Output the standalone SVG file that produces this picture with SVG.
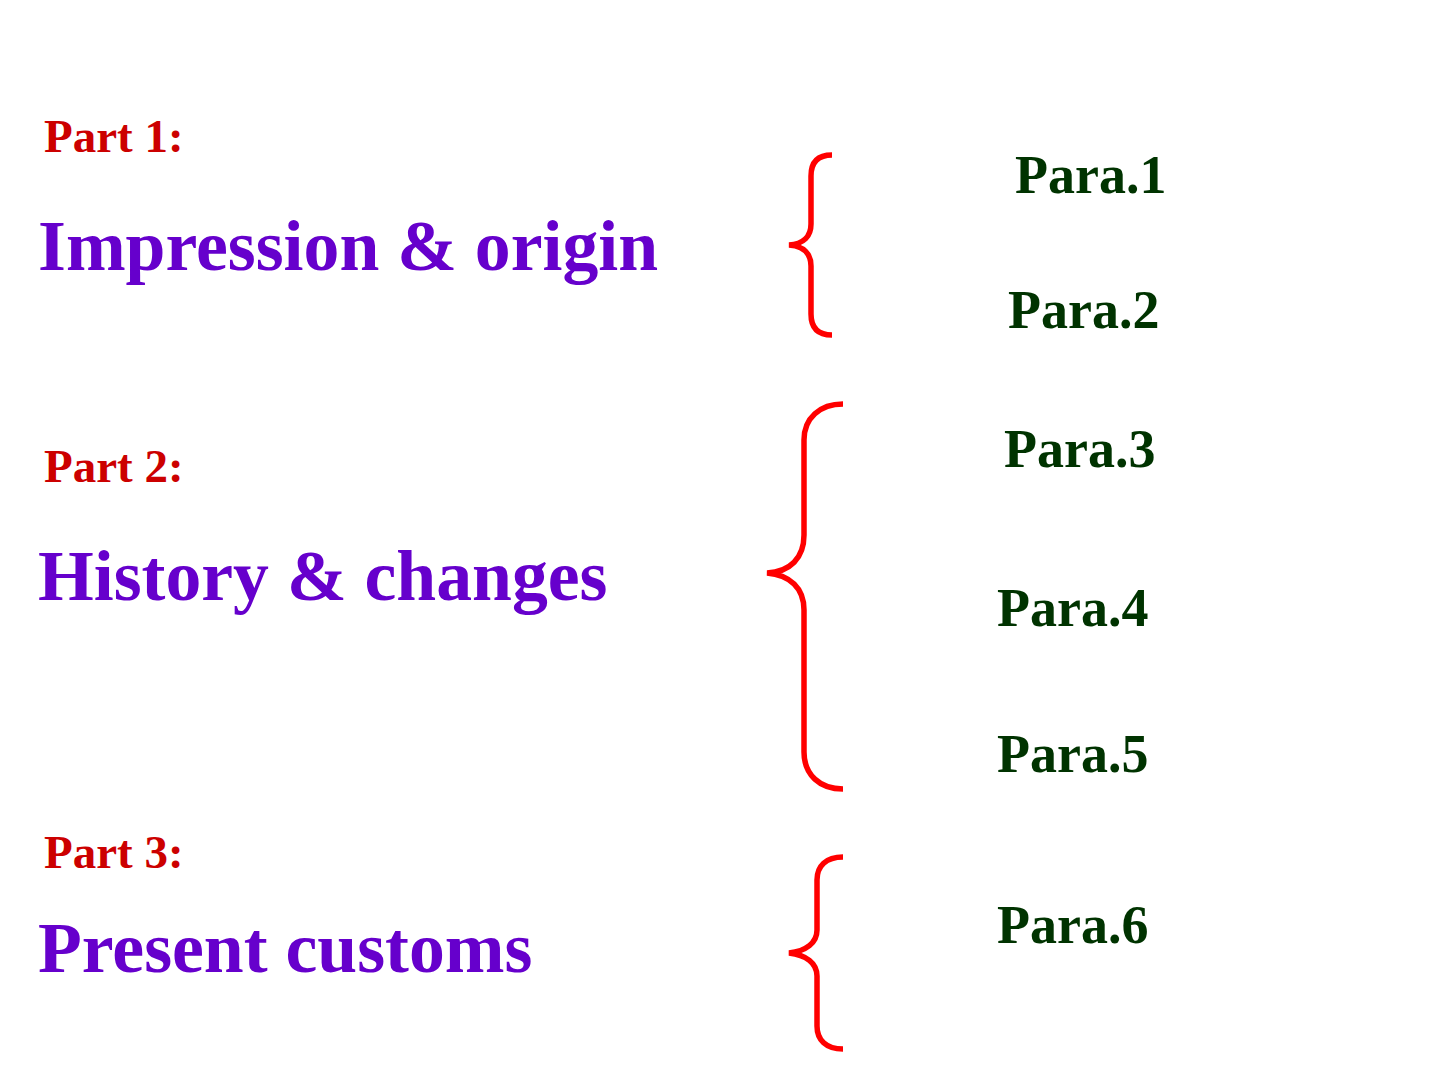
<svg xmlns="http://www.w3.org/2000/svg" width="1440" height="1080" viewBox="0 0 1440 1080">
<style>
text{font-family:"Liberation Serif","Times New Roman",serif;font-weight:bold}
.part{fill:#cc0000;font-size:47px}
.title{fill:#6600cc;font-size:71.7px}
.para{fill:#003300;font-size:54px}
.brace{fill:none;stroke:#ff0000;stroke-width:5.5;stroke-linecap:butt}
</style>
<rect width="1440" height="1080" fill="#ffffff"/>
<g id="part1">
<text class="part" x="44" y="152">Part 1:</text>
<text class="title" x="38" y="270">Impression &amp; origin</text>
</g>
<g id="part2">
<text class="part" x="44" y="482">Part 2:</text>
<text class="title" x="38" y="600">History &amp; changes</text>
</g>
<g id="part3">
<text class="part" x="44" y="868">Part 3:</text>
<text class="title" x="38" y="972">Present customs</text>
</g>
<g id="paras">
<text class="para" x="1015" y="193">Para.1</text>
<text class="para" x="1008" y="328">Para.2</text>
<text class="para" x="1004" y="467">Para.3</text>
<text class="para" x="997" y="626">Para.4</text>
<text class="para" x="997" y="772">Para.5</text>
<text class="para" x="997" y="943">Para.6</text>
</g>
<g id="connectors">
<path class="brace" d="M832,155 C818,155 811,162 811,176 L811,224 C811,236 804,244 789,245 C804,246 811,254 811,266 L811,314 C811,328 818,335 832,335"/>
<path class="brace" d="M843,404 C820,404 804,418 804,440 L804,535 C804,558 790,572 767,573 C790,575 804,588 804,610 L804,752 C804,775 820,789 843,789"/>
<path class="brace" d="M843,857 C826,857 817,866 817,880 L817,930 C817,943 806,951 789,953 C806,955 817,963 817,976 L817,1026 C817,1040 826,1049 843,1049"/>
</g>
</svg>
